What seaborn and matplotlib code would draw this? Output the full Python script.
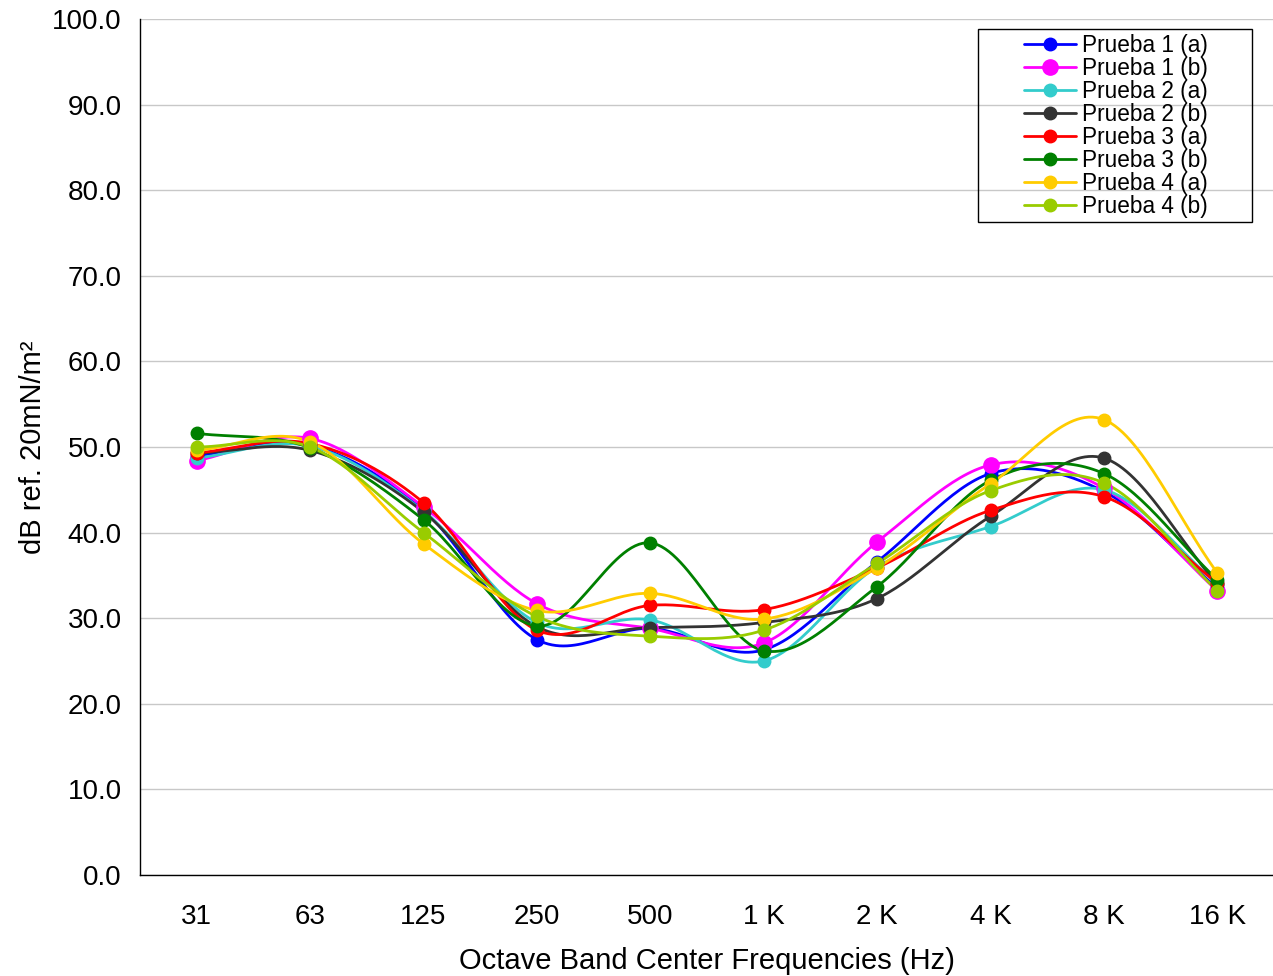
import matplotlib
matplotlib.use("Agg")
import matplotlib.pyplot as plt
from matplotlib.patches import Rectangle
import numpy as np
import pandas as pd
import seaborn as sns

freqs = ["31", "63", "125", "250", "500", "1 K", "2 K", "4 K", "8 K", "16 K"]
series = ["Prueba 1 (a)", "Prueba 1 (b)", "Prueba 2 (a)", "Prueba 2 (b)",
          "Prueba 3 (a)", "Prueba 3 (b)", "Prueba 4 (a)", "Prueba 4 (b)"]
colors = ["#0000ff", "#ff00ff", "#33cccc", "#333333",
          "#ff0000", "#008000", "#ffcc00", "#99cc00"]

p1a = [49.0, 50.2, 42.6, 27.5, 28.8, 26.3, 36.6, 46.9, 44.8, 33.5]
p1b = [48.4, 51.0, 43.0, 31.7, 28.8, 27.1, 38.9, 47.9, 45.2, 33.2]
p2a = [48.7, 50.1, 42.5, 29.5, 29.8, 25.0, 36.0, 40.7, 45.0, 34.0]
p2b = [49.3, 49.6, 42.4, 29.0, 28.9, 29.5, 32.3, 41.9, 48.7, 34.0]
p3a = [49.3, 50.4, 43.5, 28.6, 31.5, 31.0, 35.9, 42.6, 44.2, 34.1]
p3b = [51.6, 49.9, 41.5, 29.1, 38.8, 26.2, 33.7, 46.1, 46.9, 34.5]
p4a = [49.6, 50.6, 38.7, 30.9, 32.9, 29.9, 35.9, 45.7, 53.2, 35.3]
p4b = [50.0, 50.0, 40.0, 30.2, 27.9, 28.6, 36.4, 44.9, 45.8, 33.2]
values = [p1a, p1b, p2a, p2b, p3a, p3b, p4a, p4b]


def smooth(y, n=30):
    # Catmull-Rom style smoothing, similar to spreadsheet "smoothed line"
    y = np.asarray(y, float)
    x = np.arange(len(y), dtype=float)
    xs, ys = [], []
    for i in range(len(y) - 1):
        p0 = y[i - 1] if i > 0 else y[i]
        p3 = y[i + 2] if i + 2 < len(y) else y[i + 1]
        p1, p2 = y[i], y[i + 1]
        m1 = (p2 - p0) / (2 if i > 0 else 1)
        m2 = (p3 - p1) / (2 if i + 2 < len(y) else 1)
        t = np.linspace(0, 1, n, endpoint=False)
        h00 = 2 * t**3 - 3 * t**2 + 1
        h10 = t**3 - 2 * t**2 + t
        h01 = -2 * t**3 + 3 * t**2
        h11 = t**3 - t**2
        xs.append(x[i] + t)
        ys.append(h00 * p1 + h10 * m1 + h01 * p2 + h11 * m2)
    xs.append([x[-1]])
    ys.append([y[-1]])
    return np.concatenate(xs), np.concatenate(ys)


pts = pd.DataFrame({
    "serie": np.repeat(series, len(freqs)),
    "x": np.tile(np.arange(len(freqs)), len(series)),
    "y": np.concatenate(values),
})
curves = []
for name, v in zip(series, values):
    sx, sy = smooth(v)
    curves.append(pd.DataFrame({"serie": name, "x": sx, "y": sy}))
curves = pd.concat(curves, ignore_index=True)

sns.set_style("white")
plt.rcParams["font.family"] = ["Liberation Sans", "DejaVu Sans"]
for k in ["text.color", "axes.labelcolor", "xtick.color", "ytick.color"]:
    plt.rcParams[k] = "black"
palette = dict(zip(series, colors))

W, H = 1273, 976
fig = plt.figure(figsize=(W / 100, H / 100), dpi=100)
ax = fig.add_axes([140 / W, 1 - 875 / H, 1134 / W, 856 / H])

sns.lineplot(data=curves, x="x", y="y", hue="serie", palette=palette,
             linewidth=2.0, ax=ax, legend=False, sort=False, estimator=None)
for name, c in zip(series, colors):
    sub = pts[pts["serie"] == name]
    ms = 11 if name == "Prueba 1 (b)" else 9
    ax.plot(sub["x"], sub["y"], linestyle="none", marker="o", color=c,
            markersize=ms)

ax.set_xlim(-0.5, len(freqs) - 0.5)
ax.set_ylim(0, 100)
ax.set_yticks(np.arange(0, 101, 10))
ax.set_yticklabels([f"{v:.1f}" for v in np.arange(0, 101, 10)], fontsize=20)
ax.set_xticks(np.arange(len(freqs)))
ax.set_xticklabels(freqs, fontsize=20)
ax.set_xticks(np.arange(-0.5, len(freqs), 1), minor=True)
ax.tick_params(axis="x", which="major", length=0, pad=21)
ax.tick_params(axis="x", which="minor", length=7, width=1, color="black",
               direction="out")
ax.tick_params(axis="y", length=7, width=1, color="black", direction="out",
               pad=6)
ax.grid(axis="y", color="#c8c8c8", linewidth=1)
ax.set_axisbelow(True)
for s in ["top", "right"]:
    ax.spines[s].set_visible(False)
for s in ["left", "bottom"]:
    ax.spines[s].set_color("black")
    ax.spines[s].set_linewidth(1)

ax.set_xlabel("Octave Band Center Frequencies (Hz)", fontsize=21, labelpad=12)
ax.set_ylabel("dB ref. 20mN/m²", fontsize=21, labelpad=4)

# legend: frame drawn separately so it can have the wide left margin
handles = [plt.Line2D([], [], color=c, marker="o",
                      markersize=11 if n == "Prueba 1 (b)" else 9,
                      linewidth=2.0) for n, c in zip(series, colors)]
leg = ax.legend(handles, series, loc="upper left",
                bbox_to_anchor=(1024 / W, 1 - 34 / H),
                bbox_transform=fig.transFigure, fontsize=16.3,
                frameon=False, handlelength=2.3, handletextpad=0.25,
                labelspacing=0.0, borderpad=0, borderaxespad=0)
fig.patches.append(Rectangle((978 / W, 1 - 222 / H), 274 / W, 193 / H,
                             transform=fig.transFigure, fill=False,
                             edgecolor="black", linewidth=1, zorder=5))

fig.savefig("out.png", dpi=100)
